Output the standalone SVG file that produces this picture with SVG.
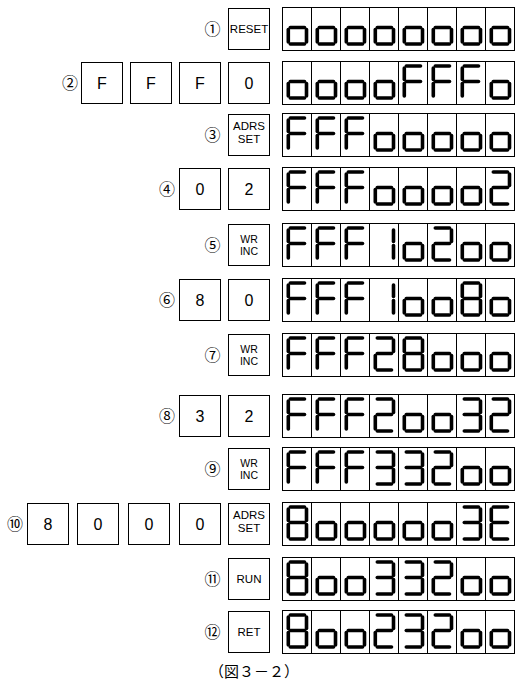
<svg xmlns="http://www.w3.org/2000/svg" xmlns:xlink="http://www.w3.org/1999/xlink" width="527" height="684" viewBox="0 0 527 684">
<style>
.key{fill:#fff;stroke:#000;stroke-width:1}
.disp{fill:#fff;stroke:#000;stroke-width:1}
.div{stroke:#000;stroke-width:1}
.seg{fill:none;stroke:#000;stroke-width:3.6;stroke-linecap:round}
.k1{font-family:"Liberation Sans",Arial,sans-serif;font-size:16px;text-anchor:middle;fill:#000}
.k2{font-family:"Liberation Sans",Arial,sans-serif;font-size:11.5px;text-anchor:middle;fill:#000}
.k3{font-family:"Liberation Sans",Arial,sans-serif;font-size:10.5px;text-anchor:middle;fill:#000}
.circ{font-family:"Noto Sans CJK JP","Noto Sans CJK SC",sans-serif;font-size:16px;text-anchor:middle;fill:#000}
.cap{font-family:"Noto Sans CJK JP","Noto Sans CJK SC",sans-serif;font-size:15px;fill:#000}
</style>
<defs>
<path id="sa" class="seg" d="M8.3 5H22.5"/>
<path id="sb" class="seg" d="M24.5 7V18.5"/>
<path id="sc" class="seg" d="M24.5 22.5V35"/>
<path id="sd" class="seg" d="M8.3 37H22.5"/>
<path id="se" class="seg" d="M6.3 22.5V35"/>
<path id="sf" class="seg" d="M6.3 7V18.5"/>
<path id="sg" class="seg" d="M8.3 20.5H22.5"/>
<g id="o"><use href="#sg"/><use href="#sc"/><use href="#sd"/><use href="#se"/></g>
<g id="F"><use href="#sa"/><use href="#sf"/><use href="#sg"/><use href="#se"/></g>
<g id="d8"><use href="#sa"/><use href="#sb"/><use href="#sc"/><use href="#sd"/><use href="#se"/><use href="#sf"/><use href="#sg"/></g>
<g id="d2"><use href="#sa"/><use href="#sb"/><use href="#sg"/><use href="#se"/><use href="#sd"/></g>
<g id="d3"><use href="#sa"/><use href="#sb"/><use href="#sg"/><use href="#sc"/><use href="#sd"/></g>
<g id="E"><use href="#sa"/><use href="#sf"/><use href="#sg"/><use href="#se"/><use href="#sd"/></g>
<g id="d1"><use href="#sb"/><use href="#sc"/></g>
<g id="frame">
<rect class="disp" x="282.5" y="0.5" width="232" height="43"/>
<path class="div" d="M311.5 0.5V43.5M340.5 0.5V43.5M369.5 0.5V43.5M398.5 0.5V43.5M427.5 0.5V43.5M456.5 0.5V43.5M485.5 0.5V43.5"/>
</g>
<rect id="kb" class="key" x="0.5" y="0.5" width="41" height="41"/>
</defs>

<g id="row1">
<text class="circ" x="212.5" y="35">①</text>
<g id="key1"><use href="#kb" x="228" y="8"/><text class="k2" x="249" y="33">RESET</text></g>
<g id="disp1"><use href="#frame" y="7"/>
<use href="#o" x="282" y="7"/><use href="#o" x="311" y="7"/><use href="#o" x="340" y="7"/><use href="#o" x="369" y="7"/><use href="#o" x="398" y="7"/><use href="#o" x="427" y="7"/><use href="#o" x="456" y="7"/><use href="#o" x="485" y="7"/></g>
</g>

<g id="row2">
<text class="circ" x="70" y="89">②</text>
<g id="key2a"><use href="#kb" x="81" y="62"/><text class="k1" x="102" y="89">F</text></g>
<g id="key2b"><use href="#kb" x="130" y="62"/><text class="k1" x="151" y="89">F</text></g>
<g id="key2c"><use href="#kb" x="179" y="62"/><text class="k1" x="200" y="89">F</text></g>
<g id="key2d"><use href="#kb" x="228" y="62"/><text class="k1" x="249" y="89">0</text></g>
<g id="disp2"><use href="#frame" y="61"/>
<use href="#o" x="282" y="61"/><use href="#o" x="311" y="61"/><use href="#o" x="340" y="61"/><use href="#o" x="369" y="61"/><use href="#F" x="398" y="61"/><use href="#F" x="427" y="61"/><use href="#F" x="456" y="61"/><use href="#o" x="485" y="61"/></g>
</g>

<g id="row3">
<text class="circ" x="212.5" y="141">③</text>
<g id="key3"><use href="#kb" x="228" y="114"/><text class="k2" x="249" y="130">ADRS</text><text class="k2" x="249" y="143">SET</text></g>
<g id="disp3"><use href="#frame" y="113"/>
<use href="#F" x="282" y="113"/><use href="#F" x="311" y="113"/><use href="#F" x="340" y="113"/><use href="#o" x="369" y="113"/><use href="#o" x="398" y="113"/><use href="#o" x="427" y="113"/><use href="#o" x="456" y="113"/><use href="#o" x="485" y="113"/></g>
</g>

<g id="row4">
<text class="circ" x="167" y="195">④</text>
<g id="key4a"><use href="#kb" x="179" y="168"/><text class="k1" x="200" y="195">0</text></g>
<g id="key4b"><use href="#kb" x="228" y="168"/><text class="k1" x="249" y="195">2</text></g>
<g id="disp4"><use href="#frame" y="167"/>
<use href="#F" x="282" y="167"/><use href="#F" x="311" y="167"/><use href="#F" x="340" y="167"/><use href="#o" x="369" y="167"/><use href="#o" x="398" y="167"/><use href="#o" x="427" y="167"/><use href="#o" x="456" y="167"/><use href="#d2" x="485" y="167"/></g>
</g>

<g id="row5">
<text class="circ" x="212.5" y="251">⑤</text>
<g id="key5"><use href="#kb" x="228" y="224"/><text class="k3" x="249" y="243">WR</text><text class="k3" x="249" y="255">INC</text></g>
<g id="disp5"><use href="#frame" y="223"/>
<use href="#F" x="282" y="223"/><use href="#F" x="311" y="223"/><use href="#F" x="340" y="223"/><use href="#d1" x="369" y="223"/><use href="#o" x="398" y="223"/><use href="#d2" x="427" y="223"/><use href="#o" x="456" y="223"/><use href="#o" x="485" y="223"/></g>
</g>

<g id="row6">
<text class="circ" x="167" y="306">⑥</text>
<g id="key6a"><use href="#kb" x="179" y="279"/><text class="k1" x="200" y="306">8</text></g>
<g id="key6b"><use href="#kb" x="228" y="279"/><text class="k1" x="249" y="306">0</text></g>
<g id="disp6"><use href="#frame" y="278"/>
<use href="#F" x="282" y="278"/><use href="#F" x="311" y="278"/><use href="#F" x="340" y="278"/><use href="#d1" x="369" y="278"/><use href="#o" x="398" y="278"/><use href="#o" x="427" y="278"/><use href="#d8" x="456" y="278"/><use href="#o" x="485" y="278"/></g>
</g>

<g id="row7">
<text class="circ" x="212.5" y="361">⑦</text>
<g id="key7"><use href="#kb" x="228" y="334"/><text class="k3" x="249" y="353">WR</text><text class="k3" x="249" y="365">INC</text></g>
<g id="disp7"><use href="#frame" y="333"/>
<use href="#F" x="282" y="333"/><use href="#F" x="311" y="333"/><use href="#F" x="340" y="333"/><use href="#d2" x="369" y="333"/><use href="#d8" x="398" y="333"/><use href="#o" x="427" y="333"/><use href="#o" x="456" y="333"/><use href="#o" x="485" y="333"/></g>
</g>

<g id="row8">
<text class="circ" x="167" y="422">⑧</text>
<g id="key8a"><use href="#kb" x="179" y="395"/><text class="k1" x="200" y="422">3</text></g>
<g id="key8b"><use href="#kb" x="228" y="395"/><text class="k1" x="249" y="422">2</text></g>
<g id="disp8"><use href="#frame" y="394"/>
<use href="#F" x="282" y="394"/><use href="#F" x="311" y="394"/><use href="#F" x="340" y="394"/><use href="#d2" x="369" y="394"/><use href="#o" x="398" y="394"/><use href="#o" x="427" y="394"/><use href="#d3" x="456" y="394"/><use href="#d2" x="485" y="394"/></g>
</g>

<g id="row9">
<text class="circ" x="212.5" y="475">⑨</text>
<g id="key9"><use href="#kb" x="228" y="448"/><text class="k3" x="249" y="467">WR</text><text class="k3" x="249" y="479">INC</text></g>
<g id="disp9"><use href="#frame" y="447"/>
<use href="#F" x="282" y="447"/><use href="#F" x="311" y="447"/><use href="#F" x="340" y="447"/><use href="#d3" x="369" y="447"/><use href="#d3" x="398" y="447"/><use href="#d2" x="427" y="447"/><use href="#o" x="456" y="447"/><use href="#o" x="485" y="447"/></g>
</g>

<g id="row10">
<text class="circ" x="15" y="530">⑩</text>
<g id="key10a"><use href="#kb" x="27" y="503"/><text class="k1" x="48" y="530">8</text></g>
<g id="key10b"><use href="#kb" x="77" y="503"/><text class="k1" x="98" y="530">0</text></g>
<g id="key10c"><use href="#kb" x="128" y="503"/><text class="k1" x="149" y="530">0</text></g>
<g id="key10d"><use href="#kb" x="179" y="503"/><text class="k1" x="200" y="530">0</text></g>
<g id="key10e"><use href="#kb" x="228" y="503"/><text class="k2" x="249" y="519">ADRS</text><text class="k2" x="249" y="532">SET</text></g>
<g id="disp10"><use href="#frame" y="502"/>
<use href="#d8" x="282" y="502"/><use href="#o" x="311" y="502"/><use href="#o" x="340" y="502"/><use href="#o" x="369" y="502"/><use href="#o" x="398" y="502"/><use href="#o" x="427" y="502"/><use href="#d3" x="456" y="502"/><use href="#E" x="485" y="502"/></g>
</g>

<g id="row11">
<text class="circ" x="212.5" y="585">⑪</text>
<g id="key11"><use href="#kb" x="228" y="558"/><text class="k2" x="249" y="583">RUN</text></g>
<g id="disp11"><use href="#frame" y="557"/>
<use href="#d8" x="282" y="557"/><use href="#o" x="311" y="557"/><use href="#o" x="340" y="557"/><use href="#d3" x="369" y="557"/><use href="#d3" x="398" y="557"/><use href="#d2" x="427" y="557"/><use href="#o" x="456" y="557"/><use href="#o" x="485" y="557"/></g>
</g>

<g id="row12">
<text class="circ" x="212.5" y="638">⑫</text>
<g id="key12"><use href="#kb" x="228" y="611"/><text class="k2" x="249" y="636">RET</text></g>
<g id="disp12"><use href="#frame" y="610"/>
<use href="#d8" x="282" y="610"/><use href="#o" x="311" y="610"/><use href="#o" x="340" y="610"/><use href="#d2" x="369" y="610"/><use href="#d3" x="398" y="610"/><use href="#d2" x="427" y="610"/><use href="#o" x="456" y="610"/><use href="#o" x="485" y="610"/></g>
</g>

<text id="caption" class="cap" x="209" y="677">（図３－２）</text>
</svg>
